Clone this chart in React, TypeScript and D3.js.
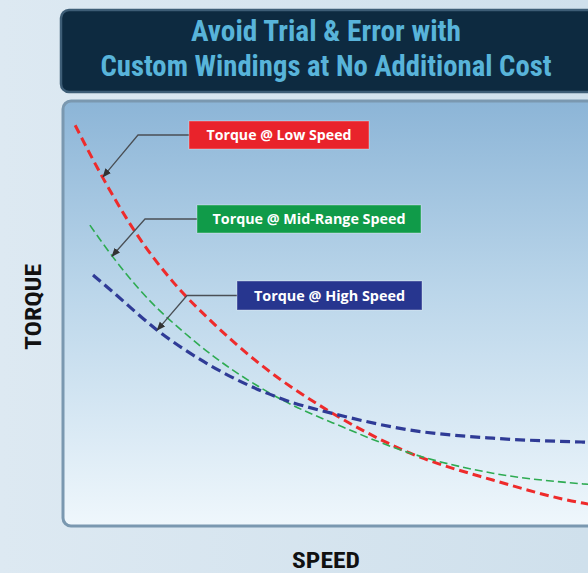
import React from "react";
import * as d3 from "d3";

const W = 588;
const H = 573;

// Speed (0-100 relative) and torque (0-100 relative)
const speedLow = [2.5, 7.8, 14.3, 21.1, 28.1, 37.6, 50.4, 66.2, 81.9, 99, 102];
const torqueLow = [94.1, 81.7, 68.4, 57.4, 48.5, 38.2, 27.4, 17.3, 11.0, 5.6, 5.0];

const speedMid = [5.3, 9.7, 14.8, 24.9, 40.9, 53.4, 66.2, 81.9, 99, 102];
const torqueMid = [70.7, 63.2, 55.5, 43.8, 30.4, 23.4, 17.3, 12.6, 10.1, 9.8];

const speedHigh = [5.9, 9.7, 18.1, 28.1, 40.9, 53.4, 66.2, 81.9, 99, 102];
const torqueHigh = [59.0, 55.0, 46.1, 37.9, 30.4, 26.0, 22.7, 20.8, 19.9, 19.8];

const seriesLabels = ["Torque @ Low Speed", "Torque @ Mid-Range Speed", "Torque @ High Speed"];
const seriesColors = ["#ee2b2b", "#2eab52", "#2f3b96"];
const boxColors = ["#e9232b", "#109b49", "#27368f"];
const arrowSpeed = [7.8, 9.5, 18.1];
const arrowTorque = [82.0, 63.4, 46.1];

const titleLines = ["Avoid Trial & Error with", "Custom Windings at No Additional Cost"];
const xTitle = "SPEED";
const yTitle = "TORQUE";

export default function App() {
  const x = d3.scaleLinear().domain([0, 100]).range([62, 588]);
  const y = d3.scaleLinear().domain([0, 100]).range([527, 100]);

  const series = [
    { s: speedLow, t: torqueLow, w: 3, dash: "9 5" },
    { s: speedMid, t: torqueMid, w: 1.6, dash: "8 4" },
    { s: speedHigh, t: torqueHigh, w: 3.2, dash: "10 5" },
  ];

  const line = d3
    .line<[number, number]>()
    .x((d) => x(d[0]))
    .y((d) => y(d[1]))
    .curve(d3.curveMonotoneX);

  // label box layouts (px)
  const boxes = [
    { x: 189, y: 121, w: 180, h: 28, elbowX: 138 },
    { x: 197, y: 205, w: 224, h: 28, elbowX: 145 },
    { x: 237, y: 281, w: 185, h: 29, elbowX: 187 },
  ];
  const textLens = [145, 193, 151];

  const condensed = "'Liberation Sans Narrow', 'Roboto Condensed', 'DejaVu Sans Condensed', 'Liberation Sans', sans-serif";
  const labelFont = "'Open Sans', 'Noto Sans', 'Liberation Sans', sans-serif";

  return (
    <svg
      width={W}
      height={H}
      viewBox={`0 0 ${W} ${H}`}
      style={{ position: "absolute", left: 0, top: 0, display: "block" }}
    >
      <defs>
        <linearGradient id="bg" x1="0" y1="0" x2="1" y2="0">
          <stop offset="0%" stopColor="#dde9f2" />
          <stop offset="100%" stopColor="#cfe0ec" />
        </linearGradient>
        <linearGradient id="panel" x1="0" y1="0" x2="0" y2="1">
          <stop offset="0%" stopColor="#8cb5d7" />
          <stop offset="45%" stopColor="#bbd6ea" />
          <stop offset="100%" stopColor="#eff7fc" />
        </linearGradient>
        <clipPath id="plotClip">
          <rect x={64} y={102} width={600} height={423} rx={7} />
        </clipPath>
        <marker id="arrow" viewBox="0 0 10 10" refX="9" refY="5" markerWidth="9" markerHeight="9" orient="auto" markerUnits="userSpaceOnUse">
          <path d="M0,1 L10,5 L0,9 Z" fill="#333" />
        </marker>
      </defs>

      <rect x={0} y={0} width={W} height={H} fill="url(#bg)" />

      {/* title box */}
      <rect x={61} y={10} width={560} height={82} rx={8} fill="#0d2a40" stroke="#3d5d76" strokeWidth={2.5} />
      {titleLines.map((t, i) => (
        <text
          key={i}
          x={326}
          y={i === 0 ? 41 : 76}
          textAnchor="middle"
          fontFamily={condensed}
          fontWeight={700}
          fontSize={29}
          fill="#58b4da"
          textLength={i === 0 ? 270 : 451}
          lengthAdjust="spacingAndGlyphs"
        >
          {t}
        </text>
      ))}

      {/* panel */}
      <rect x={63} y={101} width={600} height={425} rx={8} fill="url(#panel)" stroke="#7a98b0" strokeWidth={3} />

      <g clipPath="url(#plotClip)">
        {series.map((sr, i) => (
          <path
            key={i}
            d={line(sr.s.map((v, k) => [v, sr.t[k]] as [number, number])) || ""}
            fill="none"
            stroke={seriesColors[i]}
            strokeWidth={sr.w}
            strokeDasharray={sr.dash}
          />
        ))}

        {boxes.map((b, i) => {
          const cy = b.y + b.h / 2;
          return (
            <g key={i}>
              <polyline
                points={`${b.x},${cy} ${b.elbowX},${cy} ${x(arrowSpeed[i])},${y(arrowTorque[i])}`}
                fill="none"
                stroke="#4a4f55"
                strokeWidth={1.3}
                markerEnd="url(#arrow)"
              />
              <rect x={b.x} y={b.y} width={b.w} height={b.h} fill={boxColors[i]} stroke="rgba(255,255,255,0.35)" strokeWidth={1} />
              <text
                x={b.x + b.w / 2}
                y={cy + 5}
                textAnchor="middle"
                fontFamily={labelFont}
                fontWeight={700}
                fontSize={14.5}
                fill="#ffffff"
                textLength={textLens[i]}
                lengthAdjust="spacingAndGlyphs"
              >
                {seriesLabels[i]}
              </text>
            </g>
          );
        })}
      </g>

      {/* axis titles */}
      <text
        x={326}
        y={568}
        textAnchor="middle"
        fontFamily={condensed}
        fontWeight={700}
        fontSize={22}
        fill="#111"
        textLength={68}
        lengthAdjust="spacingAndGlyphs"
      >
        {xTitle}
      </text>
      <text
        transform="translate(41,307) rotate(-90)"
        textAnchor="middle"
        fontFamily={condensed}
        fontWeight={700}
        fontSize={22}
        fill="#111"
        textLength={86}
        lengthAdjust="spacingAndGlyphs"
      >
        {yTitle}
      </text>
    </svg>
  );
}
